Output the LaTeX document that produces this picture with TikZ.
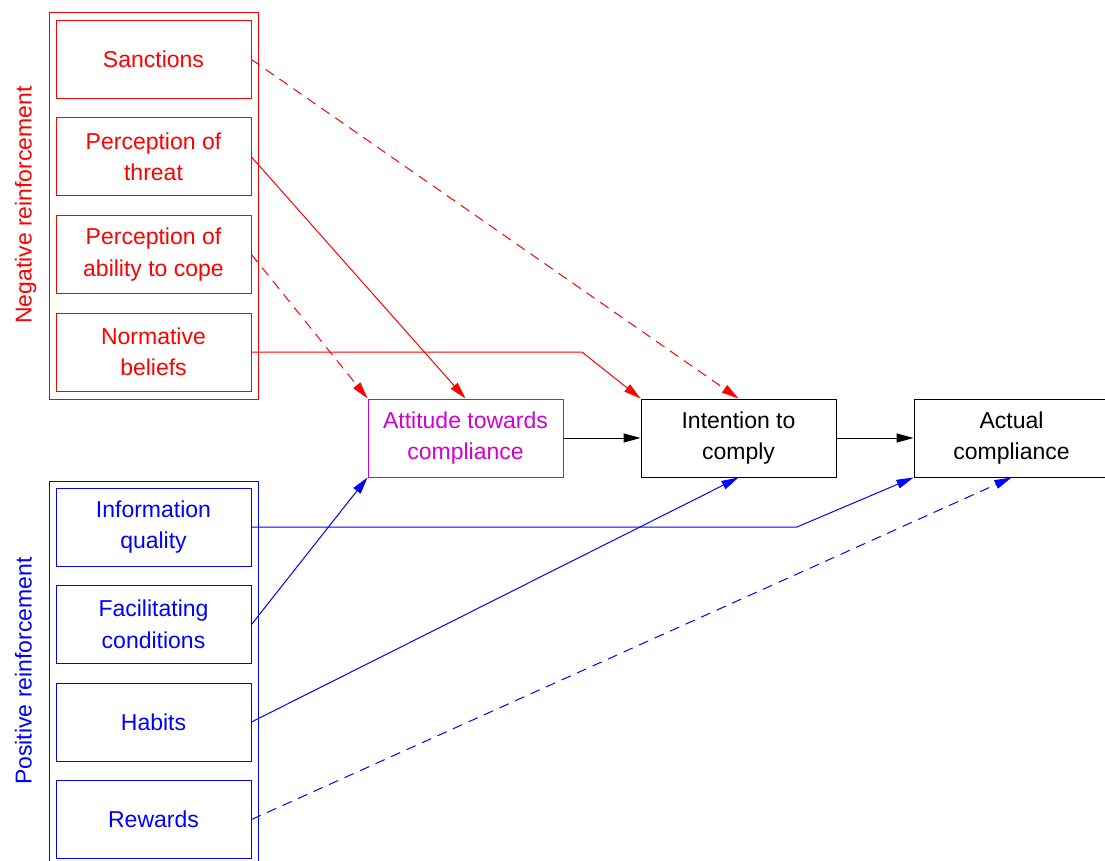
\documentclass[tikz,border=0pt]{standalone}
\usepackage{fontspec}
\setmainfont{Liberation Sans}
\usetikzlibrary{arrows.meta,positioning}
\definecolor{attmagenta}{RGB}{208,0,208}
\definecolor{negred}{RGB}{255,0,0}
\definecolor{posblue}{RGB}{0,0,255}
\tikzset{
    factor/.style={draw,minimum width=195pt,minimum height=78pt,inner sep=0pt,
        align=center,font=\fontsize{23}{31.5}\selectfont},
    frame/.style={draw,fill=none,line width=1pt},
    grouplabel/.style={rotate=90,anchor=base,font=\fontsize{23}{28}\selectfont},
    link/.style={-{Triangle[length=17pt,width=9pt]},line width=1pt},
    dashedlink/.style={link,dash pattern=on 10pt off 7pt},
}
\begin{document}
\begin{tikzpicture}[x=1pt,y=-1pt,line width=1pt,node distance=18.5pt]
    \useasboundingbox (0,0) rectangle (1105,861);
    %% Negative reinforcement
    \node[grouplabel,negred] (neglabel) at (31.5,205) {Negative reinforcement};
    \node[factor,negred] (sanc) at (153.5,59.5) {Sanctions};
    \node[factor,negred,below=of sanc] (threat) {Perception of\\threat};
    \node[factor,negred,below=of threat] (cope) {Perception of\\ability to cope};
    \node[factor,negred,below=of cope] (norm) {Normative\\beliefs};
    \path[frame,draw=negred] (49.5,13) rectangle (258.5,399);
    %% Positive reinforcement
    \node[grouplabel,posblue] (poslabel) at (31.5,671) {Positive reinforcement};
    \node[factor,posblue] (info) at (153.5,527) {Information\\quality};
    \node[factor,posblue,below=of info] (facil) {Facilitating\\conditions};
    \node[factor,posblue,below=of facil] (habits) {Habits};
    \node[factor,posblue,below=of habits] (rewards) {Rewards};
    \path[frame,draw=posblue] (49.5,481) rectangle (258.5,866);
    %% Chain
    \node[factor,attmagenta] (att) at (465.5,438) {Attitude towards\\compliance};
    \node[factor] (intent) at (738.5,438) {Intention to\\comply};
    \node[factor] (actual) at (1011.5,438) {Actual\\compliance};
    \coordinate (normbend) at (582,352);
    \coordinate (infobend) at (797,527);
    %% Links
    \draw[link] (att) -- (intent);
    \draw[link] (intent) -- (actual);
    \draw[dashedlink,negred] (sanc.east) -- (intent.north);
    \draw[link,negred] (threat.east) -- (att.north);
    \draw[dashedlink,negred] (cope.east) -- (att.north west);
    \draw[link,negred] (norm.east) -- (normbend) -- (intent.north west);
    \draw[link,posblue] (info.east) -- (infobend) -- (actual.south west);
    \draw[link,posblue] (facil.east) -- (att.south west);
    \draw[link,posblue] (habits.east) -- (intent.south);
    \draw[dashedlink,posblue] (rewards.east) -- (actual.south);
\end{tikzpicture}
\end{document}
